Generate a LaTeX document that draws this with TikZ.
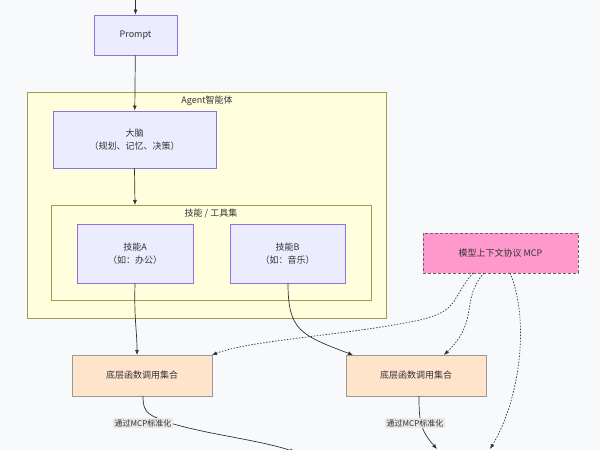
\documentclass[tikz,border=0pt]{standalone}
\usepackage{fontspec}
\setmainfont{Noto Sans CJK SC}
\usetikzlibrary{arrows.meta}
\definecolor{bg}{HTML}{F8F9FB}
\definecolor{nodefill}{HTML}{ECECFF}
\definecolor{nodedraw}{HTML}{9370DB}
\definecolor{grpfill}{HTML}{FFFFDE}
\definecolor{grpdraw}{HTML}{AAAA33}
\definecolor{funcfill}{HTML}{FFE4CC}
\definecolor{funcdraw}{HTML}{999999}
\definecolor{mcpfill}{HTML}{FF99CC}
\definecolor{txt}{HTML}{333333}
\definecolor{lbl}{HTML}{E8E8E8}
\begin{document}
\begin{tikzpicture}[x=1pt,y=-1pt,
  box/.style={draw=nodedraw,fill=nodefill,line width=0.8pt,text=txt,font=\fontsize{9}{13}\selectfont,align=center,inner sep=0},
  grp/.style={draw=grpdraw!70!gray,line width=0.8pt},
  func/.style={draw=funcdraw,fill=funcfill,line width=0.8pt,text=txt,font=\fontsize{9}{13}\selectfont,inner sep=0},
  lab/.style={fill=lbl,text=txt,font=\fontsize{8}{10}\selectfont,inner sep=1.5pt},
  arr/.style={draw=txt,line width=0.7pt,-{Latex[length=5pt,width=4pt]}},
  darr/.style={arr,dash pattern=on 1.5pt off 1.5pt}]
\fill[bg] (0,0) rectangle (600,450);
\useasboundingbox (0,0) rectangle (600,450);
\draw[grp,fill=grpfill] (27,92) rectangle (386,318);
\node[text=txt,font=\fontsize{9}{11}\selectfont] (agentlbl) at (207,101) {Agent智能体};
\draw[grp,fill=grpfill] (51,205) rectangle (371,300);
\node[text=txt,font=\fontsize{9}{11}\selectfont] (skilllbl) at (211,214) {技能 / 工具集};
\node[box,minimum width=83pt,minimum height=40pt] (prompt) at (135.5,35) {Prompt};
\node[box,minimum width=163pt,minimum height=57pt] (brain) at (134.5,139.5) {大脑\\（规划、记忆、决策）};
\node[box,minimum width=116pt,minimum height=59pt] (sa) at (135,253.5) {技能A\\（如：办公）};
\node[box,minimum width=115pt,minimum height=59pt] (sb) at (287.5,253.5) {技能B\\（如：音乐）};
\node[func,draw=black!60,fill=mcpfill,dash pattern=on 3pt off 2pt,minimum width=155pt,minimum height=40pt] (mcp) at (500.5,253) {模型上下文协议 MCP};
\node[func,minimum width=140pt,minimum height=41pt] (f1) at (142,375.5) {底层函数调用集合};
\node[func,minimum width=140pt,minimum height=41pt] (f2) at (416,375.5) {底层函数调用集合};
\coordinate (top) at (135.5,0);
\coordinate (e1) at (295,452);
\coordinate (e2) at (437,449);
\coordinate (e3) at (490,449);
\draw[arr] (top) -- (prompt);
\draw[arr] (prompt) -- (brain);
\draw[arr] (brain.south) -- (135,205);
\draw[arr] (sa.south) .. controls (134,320) and (137,330) .. (137,355);
\draw[arr] (288,283) .. controls (288,330) and (300,335) .. (353,355);
\draw[darr] (473,273) .. controls (450,300) and (460,310) .. (420,320) .. controls (350,335) and (250,340) .. (212,355);
\draw[darr] (484,273) .. controls (460,300) and (480,320) .. (444,355);
\draw[darr] (510,273) .. controls (530,320) and (520,400) .. (e3);
\draw[arr] (143,396) .. controls (143,415) and (150,415) .. (170,423) .. controls (210,435) and (260,440) .. (e1);
\draw[arr] (419,396) .. controls (419,420) and (420,430) .. (e2);
\node[lab] (l1) at (143,423) {通过MCP标准化};
\node[lab] (l2) at (415,423) {通过MCP标准化};
\end{tikzpicture}
\end{document}
